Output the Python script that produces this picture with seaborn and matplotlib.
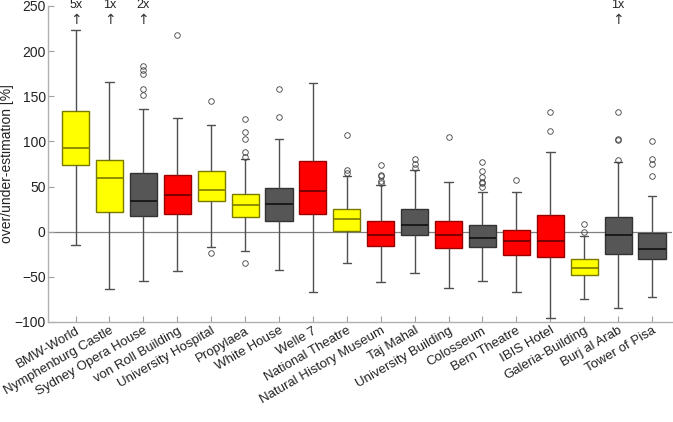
import pandas as pd
import matplotlib
matplotlib.use("Agg")
import matplotlib.pyplot as plt
import seaborn as sns

# Buildings in plotted order, with colour group of each box
buildings = ["BMW-World", "Nymphenburg Castle", "Sydney Opera House", "von Roll Building",
             "University Hospital", "Propylaea", "White House", "Welle 7", "National Theatre",
             "Natural History Museum", "Taj Mahal", "University Building", "Colosseum",
             "Bern Theatre", "IBIS Hotel", "Galeria-Building", "Burj al Arab", "Tower of Pisa"]
groups = ["yellow", "yellow", "gray", "red", "yellow", "yellow", "gray", "red", "yellow",
          "red", "gray", "red", "gray", "red", "red", "yellow", "gray", "gray"]

# Box statistics [%]
whisker_low = [-15, -64, -54.5, -43.5, -17, -21, -42.5, -66.5, -35, -55.5, -46, -62, -54.5, -67, -96, -74, -84.5, -72.5]
q1 = [74, 22, 17, 20, 33.5, 16.5, 12, 20, 1, -15.5, -4, -18, -17.5, -26, -27.5, -48, -24.5, -30.5]
median = [92.5, 59, 34, 41, 46.5, 29.5, 31, 45, 14, -3.5, 7.5, -4, -7, -10.5, -10, -40.5, -3.5, -19.5]
q3 = [133.7, 79.5, 65, 62.5, 67.5, 42, 48.5, 78, 25.5, 11.5, 25, 11.5, 7.5, 2, 19, -30.5, 16.5, -2]
whisker_high = [223, 165.5, 136, 126, 118, 80, 103, 164.5, 62, 51.5, 68, 55.5, 44, 43.5, 88, -4.5, 77, 40]
outliers = [
    [], [], [151, 157.5, 174.5, 179.5, 183.5], [218], [145, -23.5],
    [82.5, 88.5, 102.5, 110.5, 124.5, -35], [127.5, 157.5], [], [64.5, 68, 106.5],
    [54, 56, 61.5, 62.5, 73.5], [71, 74.5, 80.5], [104.5],
    [49.5, 54, 55, 61, 67.5, 77.5], [57], [112, 133], [-0.5, 8],
    [79, 101, 103, 133], [62, 75, 80.5, 100.5],
]
# number of estimates above the plotted range
off_chart = [5, 1, 2, 0, 0, 0, 0, 0, 0, 0, 0, 0, 0, 0, 0, 0, 1, 0]

styles = {
    "yellow": {"face": "#FFFF00", "edge": "#7A7A00", "median": "#7A7A00"},
    "red": {"face": "#FF0000", "edge": "#990000", "median": "#660000"},
    "gray": {"face": "#565656", "edge": "#333333", "median": "#111111"},
}

# rebuild a sample per building whose quartiles / whiskers equal the read values
rows = []
for i, b in enumerate(buildings):
    vals = [whisker_low[i]] + [q1[i]] * 20 + [median[i]] * 20 + [q3[i]] * 20 + [whisker_high[i]] + outliers[i]
    for v in vals:
        rows.append({"building": b, "group": groups[i], "value": v})
df = pd.DataFrame(rows)

sns.set_style("white")
plt.rcParams["font.family"] = ["Liberation Sans", "DejaVu Sans"]

fig, ax = plt.subplots(figsize=(6.73, 4.22), dpi=100)
ax.axhline(0, color="#808080", lw=0.9, zorder=0)

for g, st in styles.items():
    sub = df[df["group"] == g]
    sns.boxplot(data=sub, x="building", y="value", order=buildings, ax=ax,
                color=st["face"], saturation=1, width=0.8, whis=1.5,
                linecolor=st["edge"], linewidth=1.0, capwidths=0.25,
                medianprops={"color": st["median"], "linewidth": 1.2},
                whiskerprops={"color": "#505050", "linewidth": 1.0},
                capprops={"color": "#505050", "linewidth": 1.0},
                flierprops={"marker": "o", "markersize": 4, "markerfacecolor": "none",
                            "markeredgecolor": "#404040", "markeredgewidth": 0.6})

for i, n in enumerate(off_chart):
    if n:
        ax.text(i, 251, f"{n}x", ha="center", va="center", fontsize=9, color="#222222", clip_on=False)
        ax.text(i, 234, "\u2191", ha="center", va="center", fontsize=10, color="#333333",
                family=["DejaVu Sans"])

ax.set_xlim(-0.8, 17.6)
ax.set_ylim(-100, 250)
ax.set_yticks(range(-100, 251, 50))
ax.set_xticks(range(len(buildings)))
ax.set_xticklabels(buildings, rotation=30, ha="right", rotation_mode="anchor")
ax.set_xlabel("")
ax.set_ylabel("over/under-estimation [%]", fontsize=10, color="#222222")
ax.yaxis.set_label_coords(-0.056, 0.5)
ax.tick_params(axis="both", direction="in", length=4, color="#a0a0a0", labelsize=10,
               labelcolor="#222222", left=True, bottom=True)
ax.tick_params(axis="x", labelsize=9.5, pad=2)
ax.tick_params(axis="y", pad=2)
for side in ["top", "right"]:
    ax.spines[side].set_visible(False)
for side in ["left", "bottom"]:
    ax.spines[side].set_color("#b0b0b0")
    ax.spines[side].set_linewidth(1.0)

plt.subplots_adjust(left=0.072, right=0.999, bottom=0.237, top=0.986)
plt.savefig("out.png", dpi=100)
